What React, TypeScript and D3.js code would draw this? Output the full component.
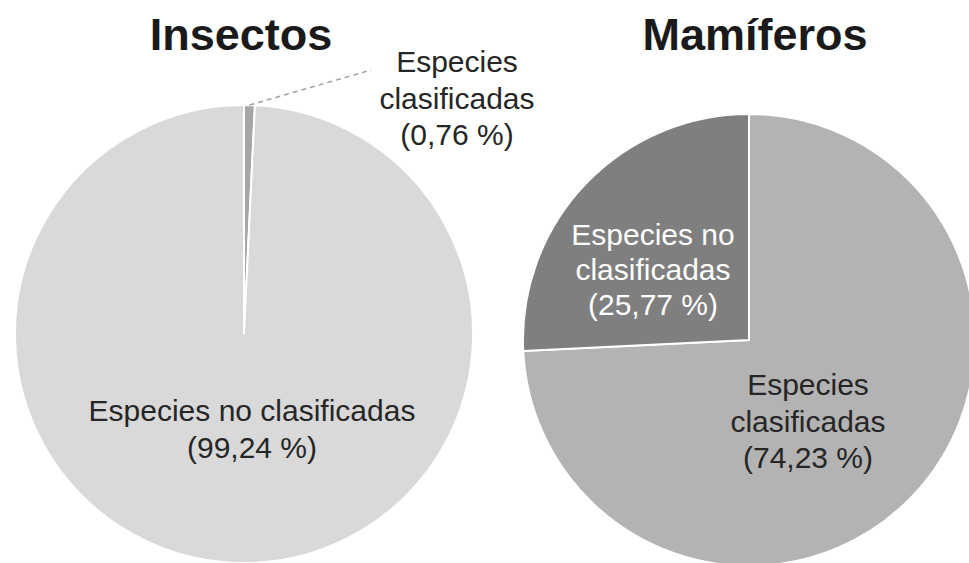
import React from "react";
import * as d3 from "d3";

const W = 969;
const H = 563;

const titles = ["Insectos", "Mamíferos"];
const insectCategories = ["Especies clasificadas", "Especies no clasificadas"];
const insectValues = [0.76, 99.24];
const insectColors = ["#a6a6a6", "#d9d9d9"];
const mammalCategories = ["Especies clasificadas", "Especies no clasificadas"];
const mammalValues = [74.23, 25.77];
const mammalColors = ["#b3b3b3", "#7f7f7f"];

const insectLabelLines = [["Especies", "clasificadas", "(0,76 %)"], ["Especies no clasificadas", "(99,24 %)"]];
const mammalLabelLines = [["Especies", "clasificadas", "(74,23 %)"], ["Especies no", "clasificadas", "(25,77 %)"]];

const FONT = "'Liberation Sans', Arial, Helvetica, sans-serif";

function Pie({ cx, cy, r, values, colors }: { cx: number; cy: number; r: number; values: number[]; colors: string[] }) {
  const pie = d3.pie<number>().sort(null).value((d) => d);
  const arc = d3.arc<d3.PieArcDatum<number>>().innerRadius(0).outerRadius(r);
  const arcs = pie(values);
  return (
    <g transform={`translate(${cx},${cy})`}>
      {arcs.map((a, i) => (
        <path key={i} d={arc(a) || ""} fill={colors[i]} stroke="#ffffff" strokeWidth={2} strokeLinejoin="miter" />
      ))}
    </g>
  );
}

function Label({ x, y, lines, fill, lh = 36.5 }: { x: number; y: number; lines: string[]; fill: string; lh?: number }) {
  return (
    <text x={x} y={y} textAnchor="middle" fontFamily={FONT} fontSize={30} fill={fill}>
      {lines.map((l, i) => (
        <tspan key={i} x={x} dy={i === 0 ? 0 : lh}>
          {l}
        </tspan>
      ))}
    </text>
  );
}

export default function App() {
  const left = { cx: 244, cy: 334, r: 229 };
  const right = { cx: 749, cy: 340, r: 226 };

  // leader line for small insect slice
  const arcs = d3.pie<number>().sort(null).value((d) => d)(insectValues);
  const midA = (arcs[0].startAngle + arcs[0].endAngle) / 2;
  const lx0 = left.cx + Math.sin(midA) * left.r;
  const ly0 = left.cy - Math.cos(midA) * left.r;

  return (
    <div style={{ position: "fixed", left: 0, top: 0 }}>
      <svg width={W} height={H} viewBox={`0 0 ${W} ${H}`} style={{ display: "block", background: "#ffffff" }}>
        <rect width={W} height={H} fill="#ffffff" />
        <Pie {...left} values={insectValues} colors={insectColors} />
        <Pie {...right} values={mammalValues} colors={mammalColors} />

        <text x={241} y={50} textAnchor="middle" fontFamily={FONT} fontWeight="bold" fontSize={45} fill="#1a1a1a">
          {titles[0]}
        </text>
        <text x={755} y={50} textAnchor="middle" fontFamily={FONT} fontWeight="bold" fontSize={45} fill="#1a1a1a">
          {titles[1]}
        </text>

        <line x1={lx0} y1={ly0} x2={371} y2={70} stroke="#a0a0a0" strokeWidth={1.5} strokeDasharray="5,4" />

        <Label x={457} y={72} lines={insectLabelLines[0]} fill="#262626" />
        <Label x={252} y={421} lines={insectLabelLines[1]} fill="#262626" lh={37} />
        <Label x={808} y={395} lines={mammalLabelLines[0]} fill="#262626" />
        <Label x={653} y={245} lines={mammalLabelLines[1]} fill="#ffffff" lh={35} />
        <desc>{insectCategories.join(", ") + " | " + mammalCategories.join(", ")}</desc>
      </svg>
    </div>
  );
}
